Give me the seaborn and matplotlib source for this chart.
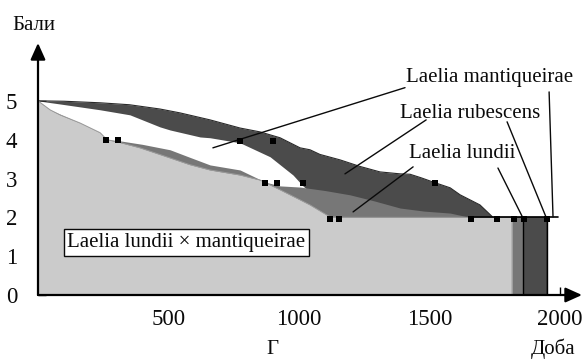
import numpy as np
import pandas as pd
import matplotlib
matplotlib.use("Agg")
import matplotlib.pyplot as plt
import seaborn as sns

# ---------- Data ---------- #

# Laelia rubescens (dark)
days_rub = [0, 100, 238, 350, 467, 544, 659, 774, 851, 927, 1004, 1042, 1080, 1157, 1234, 1310,
            1387, 1425, 1467, 1513, 1579, 1617, 1693, 1743, 1950, 1950]
score_rub = [5.0, 4.99, 4.95, 4.9, 4.79, 4.69, 4.51, 4.30, 4.20, 4.05, 3.79, 3.74, 3.62, 3.48,
             3.31, 3.17, 3.12, 3.11, 3.02, 2.91, 2.76, 2.58, 2.32, 2.0, 2.0, 0.0]

# Laelia mantiqueirae (white)
days_mant = [0, 84, 238, 352, 467, 506, 621, 659, 774, 889, 977, 1015, 1119, 1176, 1655, 1992]
score_mant = [5.0, 4.92, 4.77, 4.64, 4.33, 4.25, 4.07, 4.05, 3.92, 3.56, 3.09, 2.81, 2.19, 2.0,
              2.0, 2.0]

# Laelia lundii (medium)
days_lun = [0, 46, 161, 238, 264, 314, 400, 506, 580, 659, 774, 870, 927, 1004, 1100, 1195, 1290,
            1387, 1480, 1579, 1655, 1858, 1858]
score_lun = [5.0, 4.77, 4.43, 4.18, 4.0, 3.97, 3.88, 3.74, 3.55, 3.35, 3.22, 2.91, 2.81, 2.78,
             2.69, 2.58, 2.42, 2.24, 2.16, 2.11, 2.0, 2.0, 0.0]

# Laelia lundii x mantiqueirae (light)
days_hyb = [0, 46, 84, 161, 238, 264, 307, 391, 506, 580, 659, 774, 851, 927, 1004, 1042, 1119,
            1157, 1816, 1816]
score_hyb = [5.0, 4.77, 4.64, 4.43, 4.18, 4.0, 3.94, 3.79, 3.53, 3.36, 3.22, 3.09, 2.96, 2.71,
             2.45, 2.32, 2.01, 2.0, 2.0, 0.0]

# square markers
mark_days = [261, 307, 774, 900, 870, 916, 1015, 1521, 1119, 1153, 1659, 1759, 1824, 1862, 1950]
mark_score = [4.0, 4.0, 3.97, 3.97, 2.88, 2.88, 2.88, 2.88, 1.97, 1.97, 1.97, 1.97, 1.97, 1.97, 1.97]

x_ticks = [500, 1000, 1500, 2000]
y_ticks = [0, 1, 2, 3, 4, 5]

# ---------- Style ---------- #

sns.set_theme(style="white")
plt.rcParams['font.family'] = ['Liberation Serif', 'DejaVu Serif']

dark = '#4b4b4b'
medium = '#777777'
light = '#cbcbcb'
ink = '#0a0a0a'

fig = plt.figure(figsize=(5.88, 3.6), dpi=100)
ax = fig.add_axes([38 / 588, 65 / 360, 544 / 588, 252 / 360])

rub = pd.DataFrame({'day': days_rub, 'score': score_rub})
mant = pd.DataFrame({'day': days_mant, 'score': score_mant})
lun = pd.DataFrame({'day': days_lun, 'score': score_lun})
hyb = pd.DataFrame({'day': days_hyb, 'score': score_hyb})

# ---------- Areas ---------- #

ax.fill_between(rub['day'], rub['score'], 0, color=dark, lw=0)
ax.fill_between(mant['day'], mant['score'], 0, where=mant['day'] <= 1200,
                color='white', lw=0, interpolate=True)
ax.fill_between(lun['day'], lun['score'], 0, color=medium, lw=0)
ax.fill_between(hyb['day'], hyb['score'], 0, color=light, lw=0)

sns.lineplot(data=rub, x='day', y='score', sort=False, estimator=None,
             color='#2a2a2a', lw=0.8, ax=ax)
sns.lineplot(data=hyb, x='day', y='score', sort=False, estimator=None,
             color='#9a9a9a', lw=0.7, ax=ax)
sns.lineplot(data=mant[mant['day'] >= 1600], x='day', y='score', sort=False, estimator=None,
             color='black', lw=1.2, ax=ax)
ax.vlines([days_lun[-1], days_rub[-1]], 0, 2, color='black', lw=1.0)

sns.scatterplot(x=mark_days, y=mark_score, marker='s', s=16, color='black',
                edgecolor='black', linewidth=0, ax=ax, zorder=5)

# ---------- Labels with leader lines ---------- #

labels = {
    'Laelia mantiqueirae': ((1728, 5.49), [((670, 3.79), (1406, 5.34)),
                                           ((1958, 5.23), (1973, 2.01))]),
    'Laelia rubescens': ((1655, 4.56), [((1487, 4.51), (1176, 3.12)),
                                        ((1797, 4.46), (1946, 2.01))]),
    'Laelia lundii': ((1625, 3.53), [((1437, 3.30), (1207, 2.14)),
                                     ((1762, 3.27), (1858, 1.98))]),
}
for name, (pos, lines) in labels.items():
    ax.text(pos[0], pos[1], name, ha='center', va='baseline', fontsize=15, color=ink)
    for (a, b) in lines:
        ax.plot([a[0], b[0]], [a[1], b[1]], color=ink, lw=1.0)

ax.text(569, 1.24, 'Laelia lundii × mantiqueirae', ha='center', va='baseline',
        fontsize=15, color=ink,
        bbox=dict(boxstyle='square,pad=0.18', fc='white', ec=ink, lw=1.0))

# ---------- Axes ---------- #

ax.set_xlim(0, 2084)
ax.set_ylim(0, 6.49)
for s in ax.spines.values():
    s.set_visible(False)

ax.set_xticks(x_ticks)
ax.set_yticks(y_ticks)
ax.tick_params(axis='both', direction='in', length=5.5, width=1.0, color='black',
               labelsize=16.5, labelcolor=ink, bottom=True, left=True)
ax.tick_params(axis='x', pad=10)
ax.tick_params(axis='y', pad=15)
ax.set_xlabel('')
ax.set_ylabel('')

arrow = dict(arrowstyle='-|>,head_length=1.0,head_width=0.45', color='black',
             lw=1.6, shrinkA=0, shrinkB=0, mutation_scale=10)
ax.annotate('', xy=(1, 0), xytext=(0, 0), xycoords='axes fraction',
            textcoords='axes fraction', arrowprops=arrow, annotation_clip=False)
ax.annotate('', xy=(0, 1), xytext=(0, 0), xycoords='axes fraction',
            textcoords='axes fraction', arrowprops=arrow, annotation_clip=False)

fig.text(34 / 588, 1 - 25 / 360, 'Бали', ha='center', va='center', fontsize=15, color=ink)
fig.text(272 / 588, 1 - 350 / 360, 'Г', ha='center', va='center', fontsize=15, color=ink)
fig.text(553 / 588, 1 - 349 / 360, 'Доба', ha='center', va='center', fontsize=15, color=ink)

fig.savefig('out.png', dpi=100)
plt.close()
